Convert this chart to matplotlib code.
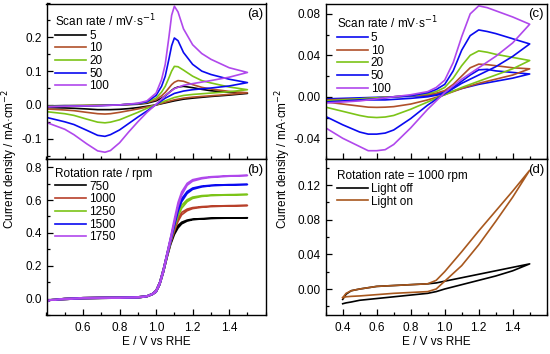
import matplotlib
matplotlib.use("Agg")
import matplotlib.pyplot as plt
from matplotlib.ticker import MultipleLocator, FormatStrFormatter

plt.rcParams['font.family'] = ['Liberation Sans', 'DejaVu Sans']
plt.rcParams['axes.unicode_minus'] = False

# ---------------- colours ----------------
BLACK = "#000000"
BROWN = "#B0502A"
GREEN = "#7CC418"
BLUE = "#0A0AF0"
VIOLET = "#B048EC"

# ---------------- panel (a): CV at various scan rates ----------------
scan_rates_a = ["5", "10", "20", "50", "100"]
colors_a = [BLACK, BROWN, GREEN, BLUE, VIOLET]
Ea_fwd = [0.40, 0.50, 0.60, 0.70, 0.80, 0.90, 0.95, 1.00, 1.03, 1.05, 1.07, 1.085,
          1.10, 1.12, 1.15, 1.20, 1.25, 1.30, 1.40, 1.50]
Ea_rev = [1.50, 1.40, 1.30, 1.20, 1.15, 1.10, 1.05, 1.00, 0.95, 0.90, 0.85, 0.80,
          0.75, 0.72, 0.68, 0.62, 0.55, 0.50, 0.40]
ja_5_fwd = [-0.003, -0.002, -0.002, -0.001, 0.0, 0.002, 0.005, 0.012, 0.020, 0.027, 0.036, 0.043,
            0.049, 0.053, 0.055, 0.051, 0.046, 0.042, 0.037, 0.034]
ja_5_rev = [0.034, 0.029, 0.025, 0.020, 0.017, 0.012, 0.006, 0.0, -0.004, -0.008, -0.011, -0.013,
            -0.014, -0.014, -0.014, -0.012, -0.010, -0.009, -0.008]
ja_10_fwd = [-0.004, -0.003, -0.002, -0.001, 0.0, 0.003, 0.007, 0.015, 0.027, 0.037, 0.050, 0.060,
             0.067, 0.072, 0.070, 0.060, 0.052, 0.047, 0.040, 0.036]
ja_10_rev = [0.036, 0.031, 0.027, 0.023, 0.020, 0.015, 0.008, 0.0, -0.006, -0.012, -0.017, -0.022,
             -0.026, -0.027, -0.026, -0.022, -0.017, -0.015, -0.012]
ja_20_fwd = [-0.004, -0.003, -0.002, -0.001, 0.0, 0.004, 0.008, 0.020, 0.038, 0.055, 0.080, 0.100,
             0.114, 0.113, 0.103, 0.085, 0.072, 0.065, 0.053, 0.045]
ja_20_rev = [0.045, 0.039, 0.035, 0.031, 0.028, 0.022, 0.012, 0.001, -0.010, -0.022, -0.033, -0.044,
             -0.051, -0.053, -0.051, -0.042, -0.031, -0.026, -0.020]
ja_50_fwd = [-0.005, -0.004, -0.003, -0.002, 0.0, 0.004, 0.009, 0.028, 0.055, 0.085, 0.135, 0.175,
             0.198, 0.190, 0.155, 0.120, 0.100, 0.090, 0.076, 0.066]
ja_50_rev = [0.066, 0.056, 0.050, 0.045, 0.041, 0.034, 0.020, 0.001, -0.018, -0.036, -0.055, -0.074,
             -0.088, -0.093, -0.090, -0.075, -0.058, -0.050, -0.037]
ja_100_fwd = [-0.006, -0.004, -0.003, -0.002, 0.0, 0.005, 0.012, 0.035, 0.075, 0.120, 0.200, 0.265,
              0.292, 0.275, 0.225, 0.178, 0.152, 0.135, 0.110, 0.096]
ja_100_rev = [0.096, 0.082, 0.072, 0.063, 0.058, 0.048, 0.028, 0.002, -0.022, -0.050, -0.080, -0.112,
              -0.135, -0.140, -0.136, -0.115, -0.088, -0.072, -0.052]
ja_fwd = [ja_5_fwd, ja_10_fwd, ja_20_fwd, ja_50_fwd, ja_100_fwd]
ja_rev = [ja_5_rev, ja_10_rev, ja_20_rev, ja_50_rev, ja_100_rev]

# ---------------- panel (b): RDE at various rotation rates ----------------
rot_rates_b = ["750", "1000", "1250", "1500", "1750"]
colors_b = [BLACK, "#B8402A", GREEN, BLUE, VIOLET]
Eb = [0.40, 0.42, 0.50, 0.60, 0.70, 0.80, 0.90, 0.95, 0.98, 1.00, 1.02, 1.04, 1.06, 1.08,
      1.10, 1.12, 1.14, 1.17, 1.20, 1.25, 1.30, 1.40, 1.50]
jb_750_fwd = [-0.020, -0.010, -0.005, 0.0, 0.002, 0.003, 0.005, 0.012, 0.025, 0.040, 0.085, 0.160,
              0.250, 0.330, 0.390, 0.430, 0.455, 0.472, 0.480, 0.485, 0.488, 0.490, 0.492]
jb_750_rev = [-0.012, -0.008, 0.0, 0.005, 0.007, 0.008, 0.010, 0.016, 0.030, 0.050, 0.100, 0.180,
              0.270, 0.355, 0.410, 0.445, 0.465, 0.478, 0.484, 0.487, 0.489, 0.491, 0.492]
jb_1000_fwd = [-0.020, -0.010, -0.005, 0.0, 0.002, 0.003, 0.005, 0.012, 0.025, 0.040, 0.085, 0.160,
               0.252, 0.340, 0.410, 0.470, 0.510, 0.535, 0.548, 0.556, 0.560, 0.564, 0.567]
jb_1000_rev = [-0.012, -0.008, 0.0, 0.005, 0.007, 0.008, 0.010, 0.016, 0.030, 0.050, 0.100, 0.180,
               0.272, 0.362, 0.435, 0.490, 0.525, 0.545, 0.554, 0.560, 0.563, 0.566, 0.567]
jb_1250_fwd = [-0.020, -0.010, -0.005, 0.0, 0.002, 0.003, 0.005, 0.012, 0.025, 0.040, 0.085, 0.160,
               0.254, 0.345, 0.430, 0.500, 0.550, 0.590, 0.610, 0.622, 0.627, 0.631, 0.634]
jb_1250_rev = [-0.012, -0.008, 0.0, 0.005, 0.007, 0.008, 0.010, 0.016, 0.030, 0.050, 0.100, 0.180,
               0.274, 0.368, 0.455, 0.522, 0.568, 0.602, 0.618, 0.627, 0.630, 0.633, 0.634]
jb_1500_fwd = [-0.020, -0.010, -0.005, 0.0, 0.002, 0.003, 0.005, 0.012, 0.025, 0.040, 0.085, 0.160,
               0.256, 0.350, 0.440, 0.530, 0.590, 0.640, 0.665, 0.680, 0.687, 0.692, 0.695]
jb_1500_rev = [-0.012, -0.008, 0.0, 0.005, 0.007, 0.008, 0.010, 0.016, 0.030, 0.050, 0.100, 0.180,
               0.276, 0.372, 0.465, 0.552, 0.608, 0.652, 0.673, 0.685, 0.690, 0.694, 0.695]
jb_1750_fwd = [-0.020, -0.010, -0.005, 0.0, 0.002, 0.003, 0.005, 0.012, 0.025, 0.040, 0.085, 0.160,
               0.258, 0.355, 0.460, 0.560, 0.630, 0.690, 0.715, 0.730, 0.738, 0.745, 0.750]
jb_1750_rev = [-0.012, -0.008, 0.0, 0.005, 0.007, 0.008, 0.010, 0.016, 0.030, 0.050, 0.100, 0.180,
               0.278, 0.378, 0.485, 0.585, 0.650, 0.702, 0.724, 0.736, 0.742, 0.748, 0.750]
jb_fwd = [jb_750_fwd, jb_1000_fwd, jb_1250_fwd, jb_1500_fwd, jb_1750_fwd]
jb_rev = [jb_750_rev, jb_1000_rev, jb_1250_rev, jb_1500_rev, jb_1750_rev]

# ---------------- panel (c): CV at various scan rates ----------------
scan_rates_c = ["5", "10", "20", "50", "100"]
colors_c = [BLUE, BROWN, GREEN, BLUE, VIOLET]
Ec_fwd = [0.30, 0.40, 0.50, 0.60, 0.70, 0.80, 0.90, 0.95, 1.00, 1.05, 1.10, 1.15, 1.20, 1.25,
          1.30, 1.40, 1.50]
Ec_rev = [1.50, 1.40, 1.30, 1.20, 1.10, 1.00, 0.90, 0.80, 0.70, 0.65, 0.60, 0.55, 0.50, 0.40, 0.30]
jc_5_fwd = [-0.002, -0.0015, -0.001, -0.0005, 0.0, 0.0005, 0.0015, 0.0025, 0.005, 0.009, 0.015,
            0.021, 0.026, 0.0265, 0.025, 0.0235, 0.022]
jc_5_rev = [0.022, 0.018, 0.015, 0.012, 0.008, 0.003, 0.0, -0.0015, -0.0025, -0.003, -0.003,
            -0.003, -0.003, -0.0025, -0.002]
jc_10_fwd = [-0.003, -0.0025, -0.002, -0.001, 0.0, 0.001, 0.002, 0.0035, 0.006, 0.012, 0.020,
             0.028, 0.0315, 0.031, 0.030, 0.028, 0.027]
jc_10_rev = [0.027, 0.021, 0.017, 0.013, 0.008, 0.002, -0.003, -0.007, -0.0095, -0.010, -0.0102,
             -0.010, -0.009, -0.007, -0.005]
jc_20_fwd = [-0.004, -0.003, -0.002, -0.001, 0.0, 0.001, 0.003, 0.005, 0.009, 0.018, 0.030,
             0.040, 0.0443, 0.043, 0.041, 0.038, 0.035]
jc_20_rev = [0.035, 0.027, 0.021, 0.015, 0.009, 0.002, -0.005, -0.012, -0.018, -0.0195, -0.020,
             -0.0195, -0.018, -0.014, -0.010]
jc_50_fwd = [-0.005, -0.004, -0.003, -0.002, 0.0, 0.001, 0.004, 0.007, 0.012, 0.025, 0.045,
             0.059, 0.0645, 0.063, 0.061, 0.056, 0.051]
jc_50_rev = [0.051, 0.039, 0.029, 0.021, 0.013, 0.003, -0.008, -0.021, -0.032, -0.035, -0.036,
             -0.036, -0.034, -0.027, -0.019]
jc_100_fwd = [-0.006, -0.005, -0.004, -0.002, 0.0, 0.002, 0.005, 0.009, 0.016, 0.033, 0.058,
              0.080, 0.0877, 0.086, 0.083, 0.077, 0.070]
jc_100_rev = [0.070, 0.052, 0.039, 0.028, 0.017, 0.004, -0.012, -0.030, -0.046, -0.051, -0.052,
              -0.052, -0.048, -0.040, -0.030]
jc_fwd = [jc_5_fwd, jc_10_fwd, jc_20_fwd, jc_50_fwd, jc_100_fwd]
jc_rev = [jc_5_rev, jc_10_rev, jc_20_rev, jc_50_rev, jc_100_rev]

# ---------------- panel (d): light off / on ----------------
labels_d = ["Light off", "Light on"]
colors_d = [BLACK, "#A8581E"]
Ed = [0.40, 0.42, 0.45, 0.50, 0.60, 0.70, 0.80, 0.90, 0.95, 1.00, 1.10, 1.20, 1.30, 1.40, 1.50]
jd_off_upper = [-0.012, -0.006, -0.002, 0.0, 0.003, 0.004, 0.005, 0.006, 0.007, 0.009, 0.013,
                0.017, 0.021, 0.025, 0.029]
jd_off_lower = [-0.017, -0.016, -0.015, -0.013, -0.011, -0.009, -0.007, -0.005, -0.003, 0.0,
                0.005, 0.010, 0.015, 0.021, 0.029]
jd_on_upper = [-0.010, -0.005, -0.002, 0.0, 0.003, 0.004, 0.005, 0.006, 0.010, 0.020, 0.043,
               0.067, 0.090, 0.113, 0.137]
jd_on_lower = [-0.010, -0.009, -0.0085, -0.008, -0.0065, -0.005, -0.004, -0.003, 0.0, 0.009,
               0.027, 0.051, 0.078, 0.106, 0.137]
jd_upper = [jd_off_upper, jd_on_upper]
jd_lower = [jd_off_lower, jd_on_lower]

# ---------------- figure ----------------
W, H = 550, 354
fig = plt.figure(figsize=(W / 100, H / 100), dpi=100)


def rect(x0, y0, x1, y1):
    return [x0 / W, 1 - y1 / H, (x1 - x0) / W, (y1 - y0) / H]


axa = fig.add_axes(rect(46.5, 3.5, 265.7, 159))
axb = fig.add_axes(rect(46.5, 159, 265.7, 315))
axc = fig.add_axes(rect(325.7, 3.5, 546.7, 159))
axd = fig.add_axes(rect(325.7, 159, 546.7, 315))

LW = 1.2
FS = 8.5

for lab, col, jf, jr in zip(scan_rates_a, colors_a, ja_fwd, ja_rev):
    axa.plot(Ea_fwd + Ea_rev, jf + jr, color=col, lw=LW, label=lab)
for lab, col, jf, jr in zip(rot_rates_b, colors_b, jb_fwd, jb_rev):
    axb.plot(Eb + Eb[::-1], jf + jr[::-1], color=col, lw=LW, label=lab)
for lab, col, jf, jr in zip(scan_rates_c, colors_c, jc_fwd, jc_rev):
    axc.plot(Ec_fwd + Ec_rev, jf + jr, color=col, lw=LW, label=lab)
for lab, col, ju, jl in zip(labels_d, colors_d, jd_upper, jd_lower):
    axd.plot(Ed + Ed[::-1], jl + ju[::-1], color=col, lw=LW, label=lab)

# axes limits and ticks
for ax in (axa, axb):
    ax.set_xlim(0.4, 1.6)
    ax.set_xticks([0.6, 0.8, 1.0, 1.2, 1.4])
for ax in (axc, axd):
    ax.set_xlim(0.3, 1.6)
    ax.set_xticks([0.4, 0.6, 0.8, 1.0, 1.2, 1.4])

axa.set_ylim(-0.16, 0.3)
axa.set_yticks([-0.1, 0.0, 0.1, 0.2])
axa.yaxis.set_minor_locator(MultipleLocator(0.05))
axa.yaxis.set_major_formatter(FormatStrFormatter('%.1f'))

axb.set_ylim(-0.1, 0.85)
axb.set_yticks([0.0, 0.2, 0.4, 0.6, 0.8])
axb.yaxis.set_minor_locator(MultipleLocator(0.1))
axb.yaxis.set_major_formatter(FormatStrFormatter('%.1f'))

axc.set_ylim(-0.06, 0.09)
axc.set_yticks([-0.04, 0.0, 0.04, 0.08])
axc.yaxis.set_minor_locator(MultipleLocator(0.02))
axc.yaxis.set_major_formatter(FormatStrFormatter('%.2f'))

axd.set_ylim(-0.03, 0.15)
axd.set_yticks([0.0, 0.04, 0.08, 0.12])
axd.yaxis.set_minor_locator(MultipleLocator(0.02))
axd.yaxis.set_major_formatter(FormatStrFormatter('%.2f'))

for ax in (axa, axb, axc, axd):
    ax.xaxis.set_minor_locator(MultipleLocator(0.1))
    ax.xaxis.set_major_formatter(FormatStrFormatter('%.1f'))
    ax.tick_params(which='both', direction='in', labelsize=FS, width=0.9, top=False, right=False)
    ax.tick_params(which='major', length=4)
    ax.tick_params(which='minor', length=2.2)
    ax.tick_params(axis='x', pad=5)
    for s in ax.spines.values():
        s.set_linewidth(1.0)

for ax in (axa, axc):
    ax.tick_params(axis='x', labelbottom=False)

# panel labels
for ax, t in zip((axa, axb, axc, axd), ("(a)", "(b)", "(c)", "(d)")):
    ax.text(0.988, 0.97, t, transform=ax.transAxes, ha='right', va='top', fontsize=9.5)

leg_kw = dict(loc='upper left', frameon=False, fontsize=FS, title_fontsize=FS,
              handlelength=2.6, handletextpad=0.25, labelspacing=0.06,
              borderaxespad=0.4, borderpad=0.35, alignment='left')
axa.legend(title="Scan rate / mV\u00b7s$^{-1}$", **leg_kw)
axb.legend(title="Rotation rate / rpm", **leg_kw)
leg_kw_r = dict(leg_kw, borderaxespad=0.5, borderpad=0.45)
axc.legend(title="Scan rate / mV\u00b7s$^{-1}$", **leg_kw_r)
axd.legend(title="Rotation rate = 1000 rpm", **leg_kw_r)

# axis labels
fig.text(10 / W, 1 - 159 / H, "Current density / mA\u00b7cm$^{-2}$", rotation=90,
         ha='center', va='center', fontsize=FS)
fig.text(283 / W, 1 - 159 / H, "Current density / mA\u00b7cm$^{-2}$", rotation=90,
         ha='center', va='center', fontsize=FS)
fig.text((46.5 + 265.7) / 2 / W, 1 - 342 / H, "E / V vs RHE", ha='center', va='center', fontsize=FS)
fig.text((325.7 + 546.7) / 2 / W, 1 - 342 / H, "E / V vs RHE", ha='center', va='center', fontsize=FS)

fig.savefig("out.png", dpi=100)
